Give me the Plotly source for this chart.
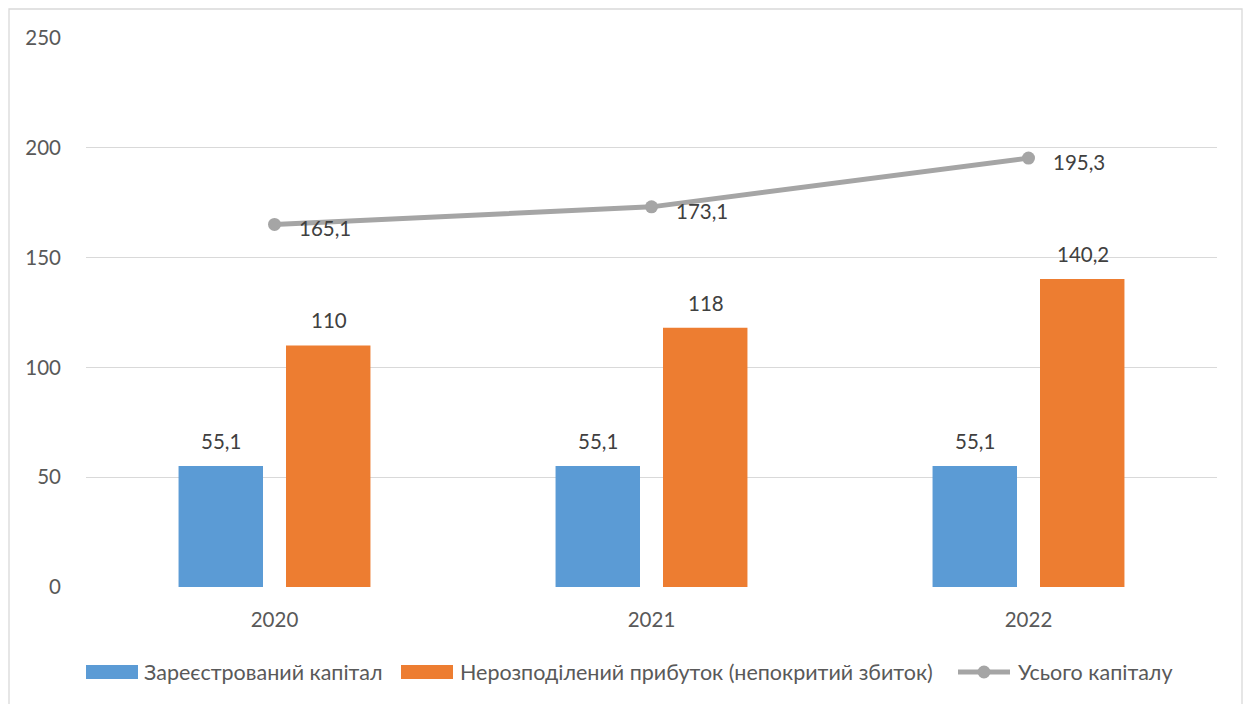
import plotly.graph_objects as go

years = ["2020", "2021", "2022"]
registered_capital = [55.1, 55.1, 55.1]
retained_earnings = [110, 118, 140.2]
total_capital = [165.1, 173.1, 195.3]

names = [
    "Зареєстрований капітал",
    "Нерозподілений прибуток (непокритий збиток)",
    "Усього капіталу",
]
colors = ["#5B9BD5", "#ED7D31", "#A5A5A5"]

TEXT = "#595959"
LABEL = "#404040"
FONT = "Lato, 'Open Sans', sans-serif"
NUM_SIZE = 20.5
LEG_SIZE = 21.5

# plot-area geometry in pixels (used for the hand-built legend and frame)
W, H = 1246, 704
L, R, T, B = 86, 29, 38, 117
PW, PH = W - L - R, H - T - B


def px_x(p):
    return (p - L) / PW


def px_y(p):
    return (H - B - p) / PH


def fmt(v):
    return f"{v:g}".replace(".", ",")


fig = go.Figure()
fig.add_trace(go.Bar(
    x=years, y=registered_capital, name=names[0],
    marker=dict(color=colors[0], line=dict(width=0)),
))
fig.add_trace(go.Bar(
    x=years, y=retained_earnings, name=names[1],
    marker=dict(color=colors[1], line=dict(width=0)),
))
fig.add_trace(go.Scatter(
    x=years, y=total_capital, name=names[2], mode="lines+markers",
    line=dict(color=colors[2], width=5),
    marker=dict(color=colors[2], size=13, symbol="circle"),
    cliponaxis=False,
))

annotations = []
# value labels above the bars (x given as category index)
for series, dx in ((registered_capital, -53.5), (retained_earnings, 54)):
    for i, v in enumerate(series):
        annotations.append(dict(
            x=i, y=v, xref="x", yref="y", text=fmt(v), showarrow=False,
            xanchor="center", yanchor="middle", xshift=dx, yshift=25,
            font=dict(family=FONT, size=NUM_SIZE, color=LABEL),
        ))
# value labels to the right of the line points
for i, v in enumerate(total_capital):
    annotations.append(dict(
        x=i, y=v, xref="x", yref="y", text=fmt(v), showarrow=False,
        xanchor="left", yanchor="middle", xshift=22, yshift=-4,
        font=dict(family=FONT, size=NUM_SIZE, color=LABEL),
    ))

# legend row along the bottom
leg_y = 672
shapes = [
    dict(type="rect", xref="paper", yref="paper",
         x0=px_x(86), x1=px_x(138), y0=px_y(679), y1=px_y(665),
         fillcolor=colors[0], line=dict(width=0)),
    dict(type="rect", xref="paper", yref="paper",
         x0=px_x(401), x1=px_x(453), y0=px_y(679), y1=px_y(665),
         fillcolor=colors[1], line=dict(width=0)),
    dict(type="line", xref="paper", yref="paper",
         x0=px_x(958), x1=px_x(1010), y0=px_y(leg_y), y1=px_y(leg_y),
         line=dict(color=colors[2], width=5)),
    dict(type="circle", xref="paper", yref="paper",
         x0=px_x(984 - 6.5), x1=px_x(984 + 6.5),
         y0=px_y(leg_y + 6.5), y1=px_y(leg_y - 6.5),
         fillcolor=colors[2], line=dict(width=0)),
    # outer chart frame
    dict(type="rect", xref="paper", yref="paper",
         x0=px_x(9), x1=px_x(1242), y0=px_y(720), y1=px_y(9),
         line=dict(color="#D9D9D9", width=1.3), fillcolor="rgba(0,0,0,0)",
         layer="below"),
]
for name, left in zip(names, (142, 458, 1016)):
    annotations.append(dict(
        x=px_x(left), y=px_y(leg_y), xref="paper", yref="paper",
        text=name, showarrow=False, xanchor="left", yanchor="middle",
        font=dict(family=FONT, size=LEG_SIZE, color=TEXT),
    ))

fig.update_layout(
    width=W, height=H,
    margin=dict(l=L, r=R, t=T, b=B),
    paper_bgcolor="white", plot_bgcolor="white",
    font=dict(family=FONT, size=NUM_SIZE, color=TEXT),
    barmode="group", bargap=0.43, bargroupgap=0.214,
    showlegend=False,
    xaxis=dict(
        type="category", categoryorder="array", categoryarray=years,
        range=[-0.5, len(years) - 0.5],
        showgrid=False, showline=False, zeroline=False, ticks="",
        tickfont=dict(size=NUM_SIZE, color=TEXT), ticklabelstandoff=18,
    ),
    yaxis=dict(
        range=[0, 250], dtick=50, showgrid=True, gridcolor="#D9D9D9",
        gridwidth=1.3, zeroline=False, showline=False, ticks="",
        tickfont=dict(size=NUM_SIZE, color=TEXT), ticklabelstandoff=24,
    ),
    shapes=shapes,
    annotations=annotations,
)

fig.write_html("out.html")
